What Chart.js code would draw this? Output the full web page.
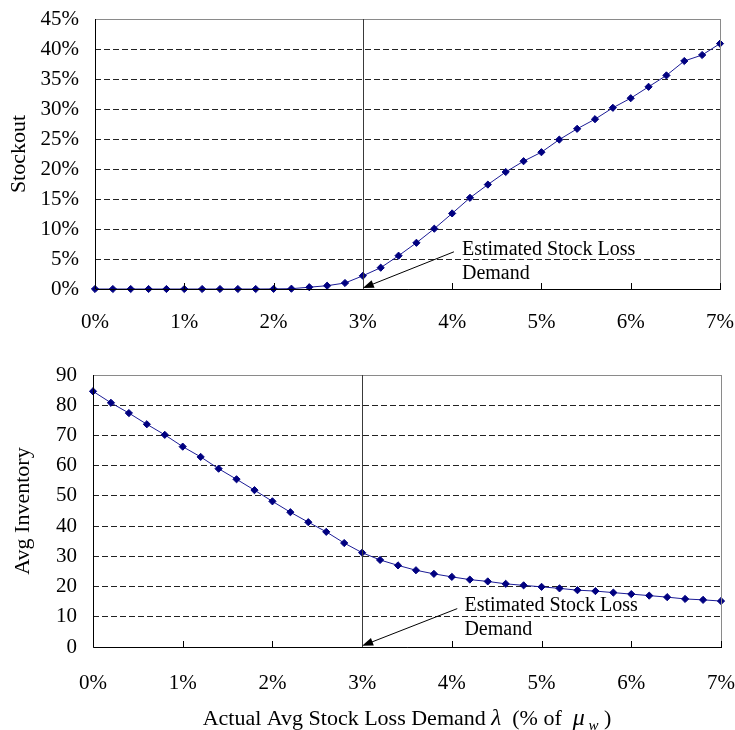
<!DOCTYPE html>
<html>
<head>
<meta charset="utf-8">
<script src="https://cdn.jsdelivr.net/npm/chart.js@4.4.1/dist/chart.umd.min.js"></script>
<style>
  body { margin: 0; background: #fff; }
  canvas { display: block; }
</style>
</head>
<body>
<canvas id="chart-stockout" width="735" height="340"></canvas>
<canvas id="chart-inventory" width="735" height="390"></canvas>
<script>
// actual avg stock loss demand, % of mu_w
const lossDemand = [0, 0.2, 0.4, 0.6, 0.8, 1.0, 1.2, 1.4, 1.6, 1.8, 2.0, 2.2, 2.4, 2.6, 2.8, 3.0, 3.2, 3.4,
  3.6, 3.8, 4.0, 4.2, 4.4, 4.6, 4.8, 5.0, 5.2, 5.4, 5.6, 5.8, 6.0, 6.2, 6.4, 6.6, 6.8, 7.0];
// stockout, %
const stockout = [0, 0, 0, 0, 0, 0, 0, 0, 0, 0, 0.02, 0.05, 0.3, 0.55, 1.0, 2.2, 3.55, 5.55,
  7.7, 10.05, 12.6, 15.2, 17.4, 19.5, 21.3, 22.8, 24.9, 26.7, 28.3, 30.2, 31.8, 33.7, 35.6, 38.0, 39.0, 40.9];
const avgInventory = [84.6, 80.8, 77.4, 73.7, 70.2, 66.3, 62.9, 59.0, 55.5, 51.9, 48.2, 44.6, 41.3, 38.1, 34.4, 31.2, 28.8, 27.0,
  25.4, 24.2, 23.2, 22.3, 21.7, 20.9, 20.4, 19.9, 19.4, 18.8, 18.5, 18.0, 17.5, 17.0, 16.5, 15.9, 15.6, 15.2];

const xTickLabels = ['0%', '1%', '2%', '3%', '4%', '5%', '6%', '7%'];
const stockoutTickLabels = ['0%', '5%', '10%', '15%', '20%', '25%', '30%', '35%', '40%', '45%'];
const inventoryTickLabels = ['0', '10', '20', '30', '40', '50', '60', '70', '80', '90'];
const estimatedDemand = 3; // % - the vertical marker
const noteLines = ['Estimated Stock Loss', 'Demand'];

//options
const FONT = '"Liberation Serif", "Times New Roman", serif';
const MARKER = '#000080';
const LINE = '#1c1c96';

// frame, 3% marker line, inward x ticks, the arrow note
const decorPlugin = {
  id: 'decor',
  afterDatasetsDraw(chart, args, opts) {
    const { ctx, chartArea: a, scales: { x, y } } = chart;
    ctx.save();
    // frame
    ctx.lineWidth = 1;
    ctx.strokeStyle = '#8a8a8a';
    ctx.strokeRect(a.left + 0.5, a.top + 0.5, a.right - a.left, a.bottom - a.top);
    ctx.strokeStyle = '#000';
    ctx.beginPath();
    ctx.moveTo(a.left + 0.5, a.top);
    ctx.lineTo(a.left + 0.5, a.bottom + 0.5);
    ctx.lineTo(a.right + 1, a.bottom + 0.5);
    ctx.stroke();
    // inward tick marks
    x.ticks.forEach((t) => {
      const px = Math.round(x.getPixelForValue(t.value)) + 0.5;
      ctx.beginPath();
      ctx.moveTo(px, a.bottom);
      ctx.lineTo(px, a.bottom - 6);
      ctx.stroke();
    });
    // estimated demand line
    const mx = Math.round(x.getPixelForValue(estimatedDemand)) + 0.5;
    ctx.strokeStyle = '#3a3a3a';
    ctx.beginPath();
    ctx.moveTo(mx, a.top);
    ctx.lineTo(mx, a.bottom);
    ctx.stroke();
    // arrow
    const x0 = x.getPixelForValue(opts.from[0]), y0 = y.getPixelForValue(opts.from[1]);
    const x1 = x.getPixelForValue(opts.to[0]), y1 = y.getPixelForValue(opts.to[1]);
    const ang = Math.atan2(y1 - y0, x1 - x0);
    ctx.strokeStyle = '#000';
    ctx.beginPath();
    ctx.moveTo(x0, y0);
    ctx.lineTo(x1 - 8 * Math.cos(ang), y1 - 8 * Math.sin(ang));
    ctx.stroke();
    ctx.fillStyle = '#000';
    ctx.beginPath();
    ctx.moveTo(x1, y1);
    ctx.lineTo(x1 - 11 * Math.cos(ang) + 4 * Math.sin(ang), y1 - 11 * Math.sin(ang) - 4 * Math.cos(ang));
    ctx.lineTo(x1 - 11 * Math.cos(ang) - 4 * Math.sin(ang), y1 - 11 * Math.sin(ang) + 4 * Math.cos(ang));
    ctx.closePath();
    ctx.fill();
    // note text
    ctx.font = '20px ' + FONT;
    ctx.textBaseline = 'middle';
    ctx.textAlign = 'left';
    noteLines.forEach((line, i) => {
      ctx.fillText(line, x.getPixelForValue(opts.text[0]), y.getPixelForValue(opts.text[1 + i]));
    });
    ctx.restore();
  },
};

// x title with the italic lambda and mu_w
const xTitlePlugin = {
  id: 'xTitle',
  afterDraw(chart, args, opts) {
    if (!opts.show) return;
    const { ctx, chartArea: a } = chart;
    const parts = [
      ['Actual Avg Stock Loss Demand ', 'normal', 22, 0],
      ['\u03BB', 'italic', 23, 0],
      ['  (% of  ', 'normal', 22, 0],
      ['\u03BC', 'italic', 24, 0],
      [' w', 'italic', 15, 5],
      [' )', 'normal', 22, 0],
    ];
    ctx.save();
    ctx.fillStyle = '#000';
    ctx.textBaseline = 'alphabetic';
    let total = 0;
    parts.forEach((p) => {
      ctx.font = `${p[1]} ${p[2]}px ${FONT}`;
      total += ctx.measureText(p[0]).width;
    });
    let cx = (a.left + a.right) / 2 - total / 2;
    parts.forEach((p) => {
      ctx.font = `${p[1]} ${p[2]}px ${FONT}`;
      ctx.fillText(p[0], cx, opts.y + p[3]);
      cx += ctx.measureText(p[0]).width;
    });
    ctx.restore();
  },
};

const makeChart = function (selector, cfg) {
  const el = document.querySelector(selector);
  if (!el) return;
  return new Chart(el, {
    type: 'line',
    plugins: [decorPlugin, xTitlePlugin],
    data: {
      datasets: [
        {
          label: cfg.label,
          data: lossDemand.map((d, i) => ({ x: d, y: cfg.values[i] })),
          borderColor: LINE,
          borderWidth: 1,
          pointStyle: 'rectRot',
          pointRadius: 3.6,
          pointBackgroundColor: MARKER,
          pointBorderColor: MARKER,
          pointBorderWidth: 1,
          tension: 0,
          clip: false,
        },
      ],
    },
    options: {
      responsive: false,
      animation: false,
      layout: { padding: cfg.padding },
      scales: {
        x: {
          type: 'linear',
          min: 0,
          max: 7,
          afterFit: (s) => {
            s.height = cfg.xHeight;
            s.paddingLeft = 0;
            s.paddingRight = 0;
          },
          afterBuildTicks: (s) => { s.ticks = xTickLabels.map((_, i) => ({ value: i })); },
          ticks: {
            color: '#000',
            font: { family: FONT, size: 21 },
            padding: cfg.xPad,
            maxRotation: 0,
            callback: (v, i) => xTickLabels[i],
          },
          grid: { display: false },
          border: { display: false },
        },
        y: {
          min: 0,
          max: cfg.max,
          afterFit: (s) => {
            s.width = cfg.yWidth;
            s.paddingTop = 0;
            s.paddingBottom = 0;
          },
          afterBuildTicks: (s) => { s.ticks = cfg.ticks.map((_, i) => ({ value: i * cfg.step })); },
          ticks: {
            color: '#000',
            font: { family: FONT, size: 21 },
            padding: 16,
            callback: (v, i) => cfg.ticks[i],
          },
          title: {
            display: true,
            text: cfg.title,
            color: '#000',
            font: { family: FONT, size: 22 },
            padding: { top: cfg.titlePad, bottom: 0 },
          },
          grid: {
            drawTicks: false,
            color: (c) => (c.index === 0 || c.index === cfg.ticks.length - 1 ? 'rgba(0,0,0,0)' : '#222'),
            lineWidth: 1,
          },
          border: { display: false, dash: [6, 3] },
        },
      },
      plugins: {
        legend: { display: false },
        tooltip: { enabled: false },
        decor: cfg.note,
        xTitle: { show: cfg.showXTitle, y: 385 },
      },
    },
  });
};

makeChart('#chart-stockout', {
  label: 'Stockout',
  values: stockout,
  max: 45,
  step: 5,
  ticks: stockoutTickLabels,
  title: 'Stockout',
  titlePad: 6,
  padding: { top: 19, right: 15, left: 0, bottom: 0 },
  xHeight: 51,
  yWidth: 95,
  xPad: 13,
  showXTitle: false,
  note: { from: [4.02, 6.2], to: [3.0, 0.15], text: [4.11, 6.6, 2.5] },
});

makeChart('#chart-inventory', {
  label: 'Avg Inventory',
  values: avgInventory,
  max: 90,
  step: 10,
  ticks: inventoryTickLabels,
  title: 'Avg Inventory',
  titlePad: 10,
  padding: { top: 35, right: 14, left: 0, bottom: 0 },
  xHeight: 83,
  yWidth: 93,
  xPad: 16,
  showXTitle: true,
  note: { from: [4.06, 12.7], to: [3.0, 0.4], text: [4.14, 13.6, 5.7] },
});
</script>
</body>
</html>
